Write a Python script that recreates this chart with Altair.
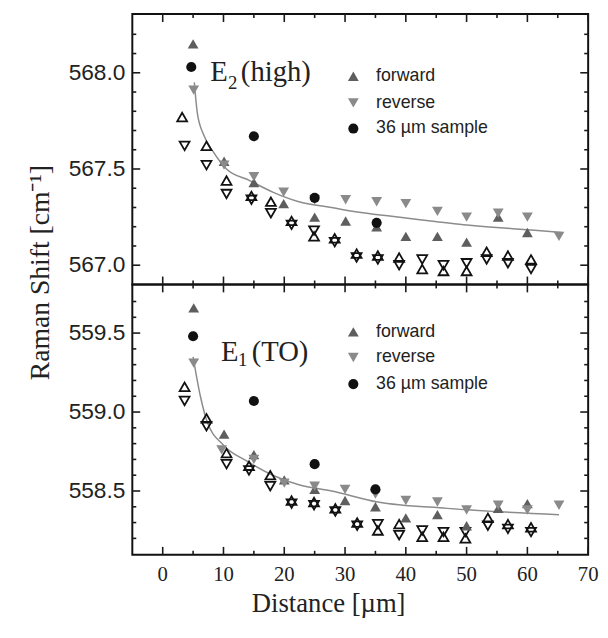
import altair as alt
import pandas as pd

# ---------------- shared x axis ----------------
X_DOMAIN = [-5, 70]
X_MAJOR = [0, 10, 20, 30, 40, 50, 60, 70]
X_MINOR = [5, 15, 25, 35, 45, 55, 65]

# ---------------- top panel: E2 (high) ----------------
E2_DOMAIN = [566.9, 568.305]
E2_MAJOR = [567.0, 567.5, 568.0]
E2_MINOR = [567.1, 567.2, 567.3, 567.4, 567.6, 567.7, 567.8, 567.9, 568.1, 568.2]

e2_fwd_x = [5.0, 10.1, 15.0, 19.9, 25.0, 30.1, 35.2, 40.0, 45.2, 50.0, 55.2, 60.0]
e2_fwd_y = [568.15, 567.54, 567.43, 567.32, 567.25, 567.23, 567.20, 567.15, 567.15, 567.12, 567.25, 567.17]
e2_rev_x = [5.1, 10.1, 15.0, 19.9, 25.0, 30.1, 35.2, 40.0, 45.2, 50.0, 55.2, 60.0, 65.2]
e2_rev_y = [567.91, 567.52, 567.46, 567.38, 567.34, 567.34, 567.33, 567.32, 567.28, 567.25, 567.27, 567.25, 567.15]
e2_smp_x = [4.7, 15.0, 25.0, 35.2]
e2_smp_y = [568.03, 567.67, 567.35, 567.22]
e2_oup_x = [3.2, 7.2, 10.5, 14.6, 17.8, 21.2, 24.9, 28.3, 31.9, 35.4, 38.9, 42.7, 46.2, 50.0, 53.3, 56.8, 60.6]
e2_oup_y = [567.77, 567.62, 567.44, 567.36, 567.33, 567.23, 567.15, 567.14, 567.06, 567.05, 567.04, 566.98, 566.97, 566.97, 567.07, 567.05, 567.03]
e2_odn_x = [3.6, 7.2, 10.5, 14.6, 17.8, 21.2, 24.9, 28.3, 31.9, 35.4, 38.9, 42.7, 46.2, 50.0, 53.3, 56.8, 60.6]
e2_odn_y = [567.62, 567.52, 567.37, 567.34, 567.27, 567.21, 567.18, 567.12, 567.04, 567.03, 567.00, 567.03, 567.00, 567.01, 567.03, 567.01, 566.98]
e2_fit_x = [5.2, 5.7, 6.7, 8.3, 10.5, 14.3, 18.1, 22.4, 27.8, 29.5, 38.7, 44.1, 49.5, 57.6, 65.7]
e2_fit_y = [567.95, 567.79, 567.68, 567.59, 567.50, 567.44, 567.38, 567.33, 567.30, 567.29, 567.25, 567.23, 567.21, 567.19, 567.17]

# ---------------- bottom panel: E1 (TO) ----------------
E1_DOMAIN = [558.096, 559.808]
E1_MAJOR = [558.5, 559.0, 559.5]
E1_MINOR = [558.2, 558.3, 558.4, 558.6, 558.7, 558.8, 558.9, 559.1, 559.2, 559.3, 559.4, 559.6, 559.7]

e1_fwd_x = [5.1, 10.1, 15.0, 20.0, 25.0, 30.0, 35.0, 40.0, 45.2, 50.0, 55.2, 60.0]
e1_fwd_y = [559.66, 558.86, 558.73, 558.57, 558.51, 558.44, 558.40, 558.33, 558.35, 558.28, 558.39, 558.42]
e1_rev_x = [5.1, 9.7, 15.0, 20.0, 25.0, 30.0, 35.0, 40.0, 45.2, 50.0, 55.2, 60.0, 65.2]
e1_rev_y = [559.31, 558.76, 558.70, 558.55, 558.53, 558.51, 558.48, 558.44, 558.43, 558.38, 558.41, 558.38, 558.41]
e1_smp_x = [5.0, 15.0, 25.0, 35.0]
e1_smp_y = [559.48, 559.07, 558.67, 558.51]
e1_oup_x = [3.6, 7.2, 10.5, 14.2, 17.7, 21.2, 24.9, 28.4, 32.0, 35.4, 38.9, 42.7, 46.2, 49.8, 53.5, 56.8, 60.6]
e1_oup_y = [559.16, 558.96, 558.74, 558.66, 558.60, 558.44, 558.43, 558.39, 558.30, 558.25, 558.29, 558.21, 558.21, 558.20, 558.33, 558.29, 558.27]
e1_odn_x = [3.6, 7.2, 10.5, 14.2, 17.7, 21.2, 24.9, 28.4, 32.0, 35.4, 38.9, 42.7, 46.2, 49.8, 53.5, 56.8, 60.6]
e1_odn_y = [559.07, 558.91, 558.67, 558.63, 558.53, 558.42, 558.41, 558.37, 558.28, 558.29, 558.22, 558.25, 558.24, 558.24, 558.28, 558.26, 558.24]
e1_fit_x = [5.0, 6.2, 7.3, 10.0, 13.8, 18.1, 22.4, 27.8, 35.4, 46.8, 65.2]
e1_fit_y = [559.35, 559.10, 558.94, 558.79, 558.69, 558.60, 558.54, 558.50, 558.43, 558.39, 558.35]

LEGEND_LABELS = ["forward", "reverse", "36 \u00b5m sample"]
Y_TITLE = "Raman Shift [cm\u207b\u00b9]"
X_TITLE = "Distance [\u00b5m]"

W, H = 462, 274
MAJ, MIN = 8, 4
FWD_C, REV_C, SMP_C = "#5e5e5e", "#8a8a8a", "#111111"
INK = "#1a1a1a"
TXT = "#222222"
SERIF, SANS = "Liberation Serif", "Liberation Sans"
one = pd.DataFrame({"a": [0]})


def txt(s, x, y, font, size, align="left", baseline="alphabetic", angle=0):
    return alt.Chart(one).mark_text(text=s, font=font, fontSize=size, align=align,
                                    baseline=baseline, color=TXT, angle=angle).encode(
        x=alt.value(x), y=alt.value(y))


def sym(shape, color, x, y, size):
    return alt.Chart(one).mark_point(shape=shape, filled=True, color=color, size=size,
                                     opacity=1).encode(x=alt.value(x), y=alt.value(y))


def panel(fit_x, fit_y, oup_x, oup_y, odn_x, odn_y, fwd_x, fwd_y, rev_x, rev_y,
          smp_x, smp_y, ydom, ymaj, ymin, bottom, lab, lab_pos, leg_y):
    xs = alt.Scale(domain=X_DOMAIN, nice=False, zero=False)
    ys = alt.Scale(domain=ydom, nice=False, zero=False)

    fit = pd.DataFrame({"x": fit_x, "y": fit_y})
    opn = pd.DataFrame({"x": oup_x + odn_x, "y": oup_y + odn_y,
                        "s": ["up"] * len(oup_x) + ["down"] * len(odn_x)})
    fil = pd.DataFrame({"x": fwd_x + rev_x, "y": fwd_y + rev_y,
                        "s": ["forward"] * len(fwd_x) + ["reverse"] * len(rev_x)})
    smp = pd.DataFrame({"x": smp_x, "y": smp_y})

    l_fit = alt.Chart(fit).mark_line(color="#8c8c8c", strokeWidth=1.5, interpolate="monotone").encode(
        x=alt.X("x:Q", scale=xs, axis=None), y=alt.Y("y:Q", scale=ys, axis=None))
    l_open = alt.Chart(opn).mark_point(filled=False, color="#111111", strokeWidth=1.8, size=100,
                                       opacity=1).encode(
        x=alt.X("x:Q", scale=xs, axis=None), y=alt.Y("y:Q", scale=ys, axis=None),
        shape=alt.Shape("s:N", scale=alt.Scale(domain=["up", "down"],
                                               range=["triangle-up", "triangle-down"]), legend=None))
    l_fill = alt.Chart(fil).mark_point(filled=True, size=120, opacity=1).encode(
        x=alt.X("x:Q", scale=xs, axis=None), y=alt.Y("y:Q", scale=ys, axis=None),
        shape=alt.Shape("s:N", scale=alt.Scale(domain=["forward", "reverse"],
                                               range=["triangle-up", "triangle-down"]), legend=None),
        color=alt.Color("s:N", scale=alt.Scale(domain=["forward", "reverse"],
                                               range=[FWD_C, REV_C]), legend=None))
    l_smp = alt.Chart(smp).mark_point(filled=True, shape="circle", size=105, color=SMP_C,
                                      opacity=1).encode(
        x=alt.X("x:Q", scale=xs, axis=None), y=alt.Y("y:Q", scale=ys, axis=None))

    # inward ticks on all four sides, drawn as tick marks through the scales
    ticks = []
    for vals, size in ((ymaj, MAJ), (ymin, MIN)):
        base = alt.Chart(pd.DataFrame({"v": vals})).mark_tick(
            orient="horizontal", size=size, thickness=1.6, color=INK, opacity=1)
        ticks.append(base.encode(y=alt.Y("v:Q", scale=ys, axis=None), x=alt.value(size / 2)))
        ticks.append(base.encode(y=alt.Y("v:Q", scale=ys, axis=None), x=alt.value(W - size / 2)))
    for vals, size in ((X_MAJOR, MAJ), (X_MINOR, MIN)):
        base = alt.Chart(pd.DataFrame({"v": vals})).mark_tick(
            orient="vertical", size=size, thickness=1.6, color=INK, opacity=1)
        ticks.append(base.encode(x=alt.X("v:Q", scale=xs, axis=None), y=alt.value(H - size / 2)))
        ticks.append(base.encode(x=alt.X("v:Q", scale=xs, axis=None), y=alt.value(size / 2)))

    # tick labels and titles as text marks
    labels = [alt.Chart(pd.DataFrame({"v": ymaj})).mark_text(
        align="right", baseline="middle", font=SANS, fontSize=23, color=TXT).encode(
        y=alt.Y("v:Q", scale=ys, axis=None), x=alt.value(-7),
        text=alt.Text("v:Q", format=".1f"))]
    if bottom:
        labels.append(alt.Chart(pd.DataFrame({"v": X_MAJOR})).mark_text(
            align="center", baseline="top", font=SERIF, fontSize=21, color=TXT).encode(
            x=alt.X("v:Q", scale=xs, axis=None), y=alt.value(H + 10),
            text=alt.Text("v:Q", format="d")))
        labels.append(txt(X_TITLE, 199, H + 58, SERIF, 27, align="center"))
    else:
        labels.append(txt(Y_TITLE, -84, 262, SERIF, 28, align="center", angle=270))

    ann = []
    (ex, ey), (sx, sy), (rx, ry) = lab_pos
    ann.append(txt("E", ex, ey, SERIF, 29))
    ann.append(txt(lab[0], sx, sy, SERIF, 19))
    ann.append(txt(lab[1], rx, ry, SERIF, 29))
    shapes = [("triangle-up", FWD_C, 120), ("triangle-down", REV_C, 120), ("circle", SMP_C, 105)]
    for (shp, col, sz), yy, name in zip(shapes, leg_y, LEGEND_LABELS):
        ann.append(sym(shp, col, 224, yy, sz))
        ann.append(txt(name, 247, yy, SANS, 18, baseline="middle"))

    layers = [l_fit, l_open, l_fill, l_smp] + ticks + ann + labels
    return alt.layer(*layers).properties(width=W, height=H)


top = panel(e2_fit_x, e2_fit_y, e2_oup_x, e2_oup_y, e2_odn_x, e2_odn_y,
            e2_fwd_x, e2_fwd_y, e2_rev_x, e2_rev_y, e2_smp_x, e2_smp_y,
            E2_DOMAIN, E2_MAJOR, E2_MINOR, False, ["2", "(high)"],
            [(79, 68), (97, 76), (110, 68)], [63, 90, 116])
bot = panel(e1_fit_x, e1_fit_y, e1_oup_x, e1_oup_y, e1_odn_x, e1_odn_y,
            e1_fwd_x, e1_fwd_y, e1_rev_x, e1_rev_y, e1_smp_x, e1_smp_y,
            E1_DOMAIN, E1_MAJOR, E1_MINOR, True, ["1", "(TO)"],
            [(90, 78), (107, 83), (121, 78)], [48, 74, 101])

chart = alt.vconcat(top, bot, spacing=0, bounds="flush").properties(
    padding={"left": 19, "top": 1, "right": 0, "bottom": 5},
    background="white",
).configure_view(stroke="#111111", strokeWidth=2)

chart.save("out.html", embed_options={"renderer": "svg", "actions": False})
